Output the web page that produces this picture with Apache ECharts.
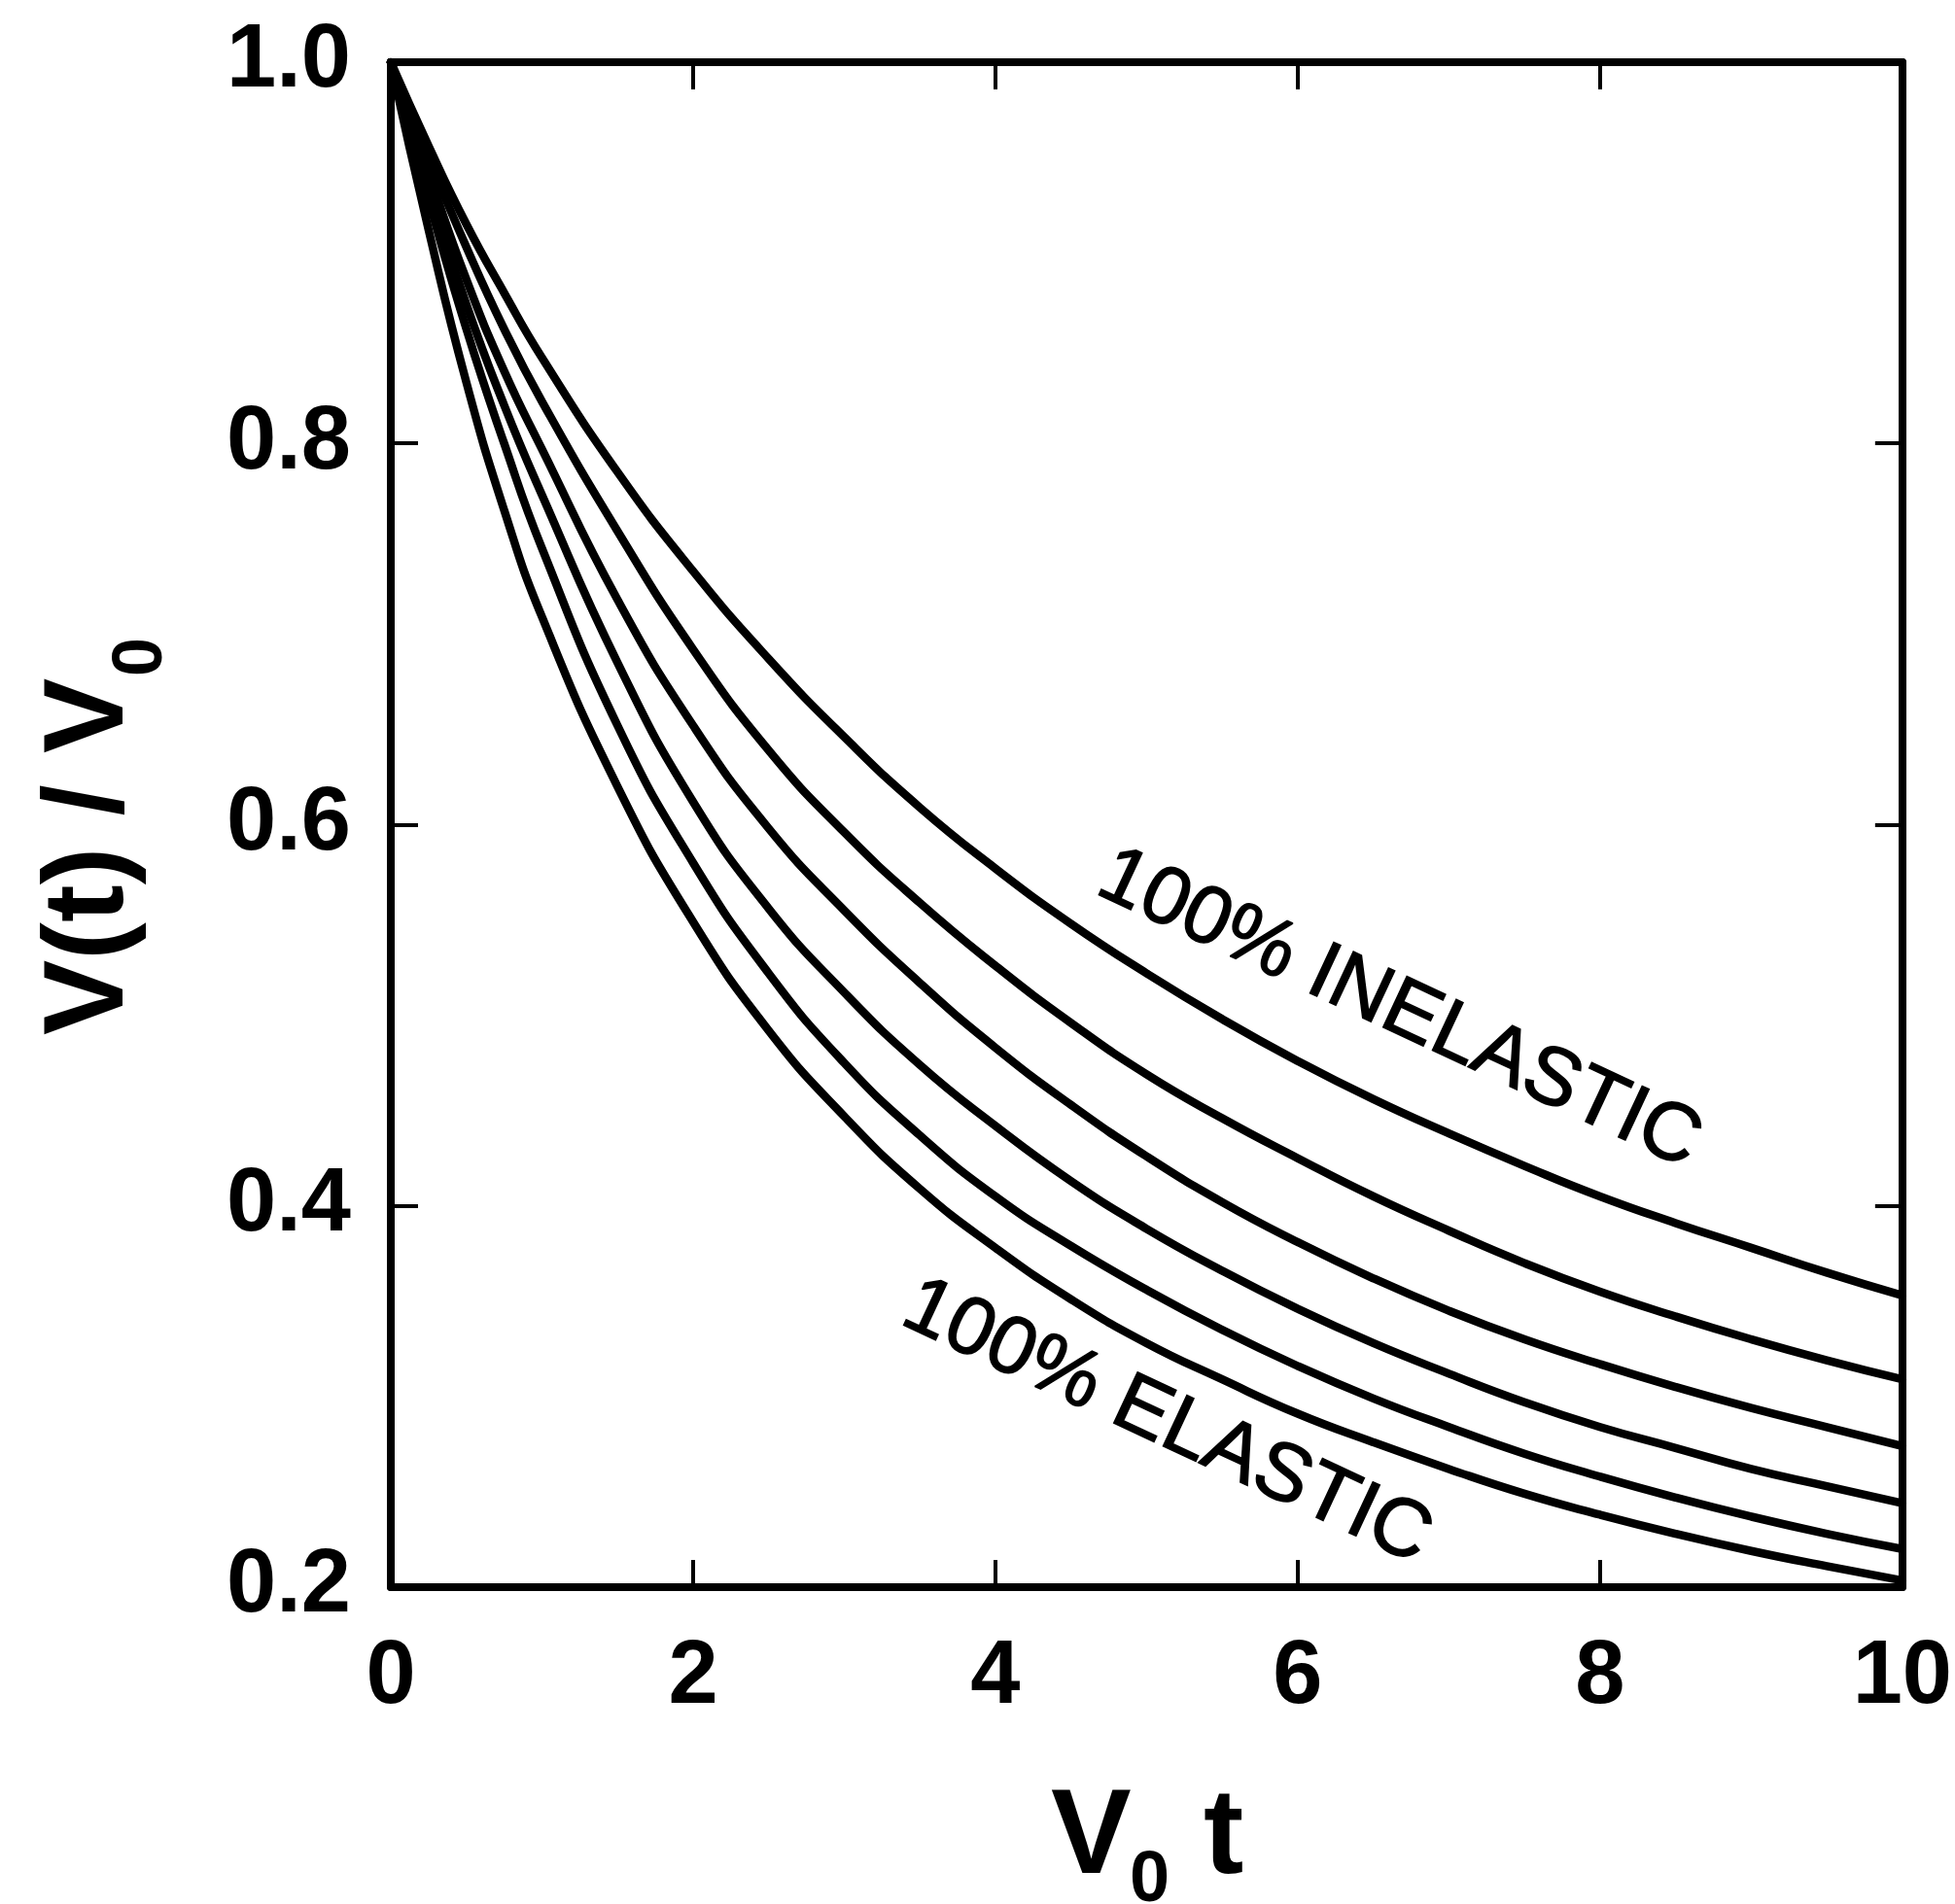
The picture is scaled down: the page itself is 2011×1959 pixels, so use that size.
<!DOCTYPE html>
<html>
<head>
<meta charset="utf-8">
<title>V(t) / V0 versus V0 t</title>
<script src="https://cdn.jsdelivr.net/npm/echarts@6/dist/echarts.min.js"></script>
<style>
  html, body { margin: 0; padding: 0; background: #ffffff; }
  #chart { width: 2011px; height: 1959px; }
</style>
</head>
<body>
<div id="chart"></div>
<script>
// Abscissa V0 t
const t = [0, 0.25, 0.5, 0.75, 1, 1.5, 2, 2.5, 3, 3.5, 4, 4.5, 5, 5.5, 6, 6.5, 7, 7.5, 8, 8.5, 9, 9.5, 10];

// V(t)/V0 for each collision mix, from 100% inelastic (top) to 100% elastic (bottom)
const inelastic100 = [1.000, 0.956, 0.915, 0.879, 0.845, 0.785, 0.733, 0.687, 0.646, 0.609, 0.577, 0.548, 0.522, 0.498, 0.476, 0.456, 0.438, 0.421, 0.405, 0.391, 0.378, 0.365, 0.353];
const mix2 = [1.000, 0.950, 0.903, 0.860, 0.822, 0.754, 0.692, 0.639, 0.596, 0.559, 0.526, 0.496, 0.469, 0.446, 0.425, 0.405, 0.387, 0.370, 0.355, 0.342, 0.330, 0.319, 0.309];
const mix3 = [1.000, 0.942, 0.886, 0.838, 0.797, 0.718, 0.652, 0.598, 0.555, 0.517, 0.483, 0.453, 0.426, 0.402, 0.381, 0.362, 0.345, 0.330, 0.317, 0.305, 0.294, 0.284, 0.274];
const mix4 = [1.000, 0.935, 0.873, 0.820, 0.773, 0.685, 0.612, 0.556, 0.512, 0.474, 0.442, 0.413, 0.388, 0.366, 0.346, 0.328, 0.312, 0.297, 0.284, 0.273, 0.262, 0.253, 0.244];
const mix5 = [1.000, 0.928, 0.860, 0.800, 0.745, 0.652, 0.580, 0.522, 0.475, 0.437, 0.405, 0.379, 0.356, 0.335, 0.316, 0.299, 0.284, 0.270, 0.258, 0.247, 0.237, 0.228, 0.220];
const elastic100 = [1.000, 0.912, 0.832, 0.765, 0.709, 0.620, 0.549, 0.492, 0.447, 0.409, 0.378, 0.351, 0.328, 0.309, 0.291, 0.276, 0.262, 0.249, 0.238, 0.228, 0.219, 0.211, 0.2035];

const curves = [inelastic100, mix2, mix3, mix4, mix5, elastic100];

// Axis ranges and tick steps
const xRange = [0, 10], xStep = 2;
const yRange = [0.2, 1.0], yStep = 0.2;

const FONT = '"Liberation Sans", Arial, Helvetica, sans-serif';
const INK = '#000000';

const chart = echarts.init(document.getElementById('chart'), null, { renderer: 'canvas' });

function frameAxis(extra) {
  return Object.assign({
    type: 'value',
    splitLine: { show: false },
    axisLine: { show: true, onZero: false, lineStyle: { color: INK, width: 8 } },
    axisTick: { show: true, inside: true, length: 28, lineStyle: { color: INK, width: 4 } },
    minorTick: { show: false }
  }, extra);
}

const tickLabel = { color: INK, fontFamily: FONT, fontWeight: 'bold', fontSize: 92 };

const option = {
  animation: false,
  backgroundColor: '#ffffff',
  grid: { left: 402, top: 64, width: 1564, height: 1569, containLabel: false },
  xAxis: [
    frameAxis({ min: xRange[0], max: xRange[1], interval: xStep, position: 'bottom',
      axisLabel: Object.assign({ margin: 48, formatter: v => String(v) }, tickLabel) }),
    frameAxis({ min: xRange[0], max: xRange[1], interval: xStep, position: 'top',
      axisLabel: { show: false } })
  ],
  yAxis: [
    frameAxis({ min: yRange[0], max: yRange[1], interval: yStep, position: 'left',
      axisLabel: Object.assign({ margin: 41, formatter: v => v.toFixed(1) }, tickLabel) }),
    frameAxis({ min: yRange[0], max: yRange[1], interval: yStep, position: 'right',
      axisLabel: { show: false } })
  ],
  series: curves.map(vals => ({
    type: 'line',
    xAxisIndex: 0,
    yAxisIndex: 0,
    data: t.map((x, i) => [x, vals[i]]),
    showSymbol: false,
    smooth: 0.5,
    lineStyle: { color: INK, width: 8.5, cap: 'round', join: 'round' },
    emphasis: { disabled: true },
    z: 3
  })),
  graphic: [
    // x-axis title: V0 t
    { type: 'text', x: 1081, y: 1893, style: { text: 'V', fill: INK, font: 'bold 124px ' + FONT, align: 'left', verticalAlign: 'middle' } },
    { type: 'text', x: 1162, y: 1936, style: { text: '0', fill: INK, font: 'bold 74px ' + FONT, align: 'left', verticalAlign: 'middle' } },
    { type: 'text', x: 1238, y: 1893, style: { text: 't', fill: INK, font: 'bold 124px ' + FONT, align: 'left', verticalAlign: 'middle' } },
    // y-axis title: V(t) / V0, reading bottom to top
    { type: 'group', x: 94, y: 853, rotation: Math.PI / 2, children: [
      { type: 'text', x: -212, y: 0, style: { text: 'V(t) / V', fill: INK, font: 'bold 116px ' + FONT, align: 'left', verticalAlign: 'middle' } },
      { type: 'text', x: 157, y: 52, style: { text: '0', fill: INK, font: 'bold 72px ' + FONT, align: 'left', verticalAlign: 'middle' } }
    ] },
    // curve annotations
    { type: 'text', x: 1439, y: 1039, rotation: -25 * Math.PI / 180, style: { text: '100% INELASTIC', fill: INK, stroke: INK, lineWidth: 1.5, font: '84px ' + FONT, align: 'center', verticalAlign: 'middle' }, z: 10 },
    { type: 'text', x: 1200, y: 1464, rotation: -25 * Math.PI / 180, style: { text: '100% ELASTIC', fill: INK, stroke: INK, lineWidth: 1.5, font: '84px ' + FONT, align: 'center', verticalAlign: 'middle' }, z: 10 }
  ]
};

chart.setOption(option);
</script>
</body>
</html>
